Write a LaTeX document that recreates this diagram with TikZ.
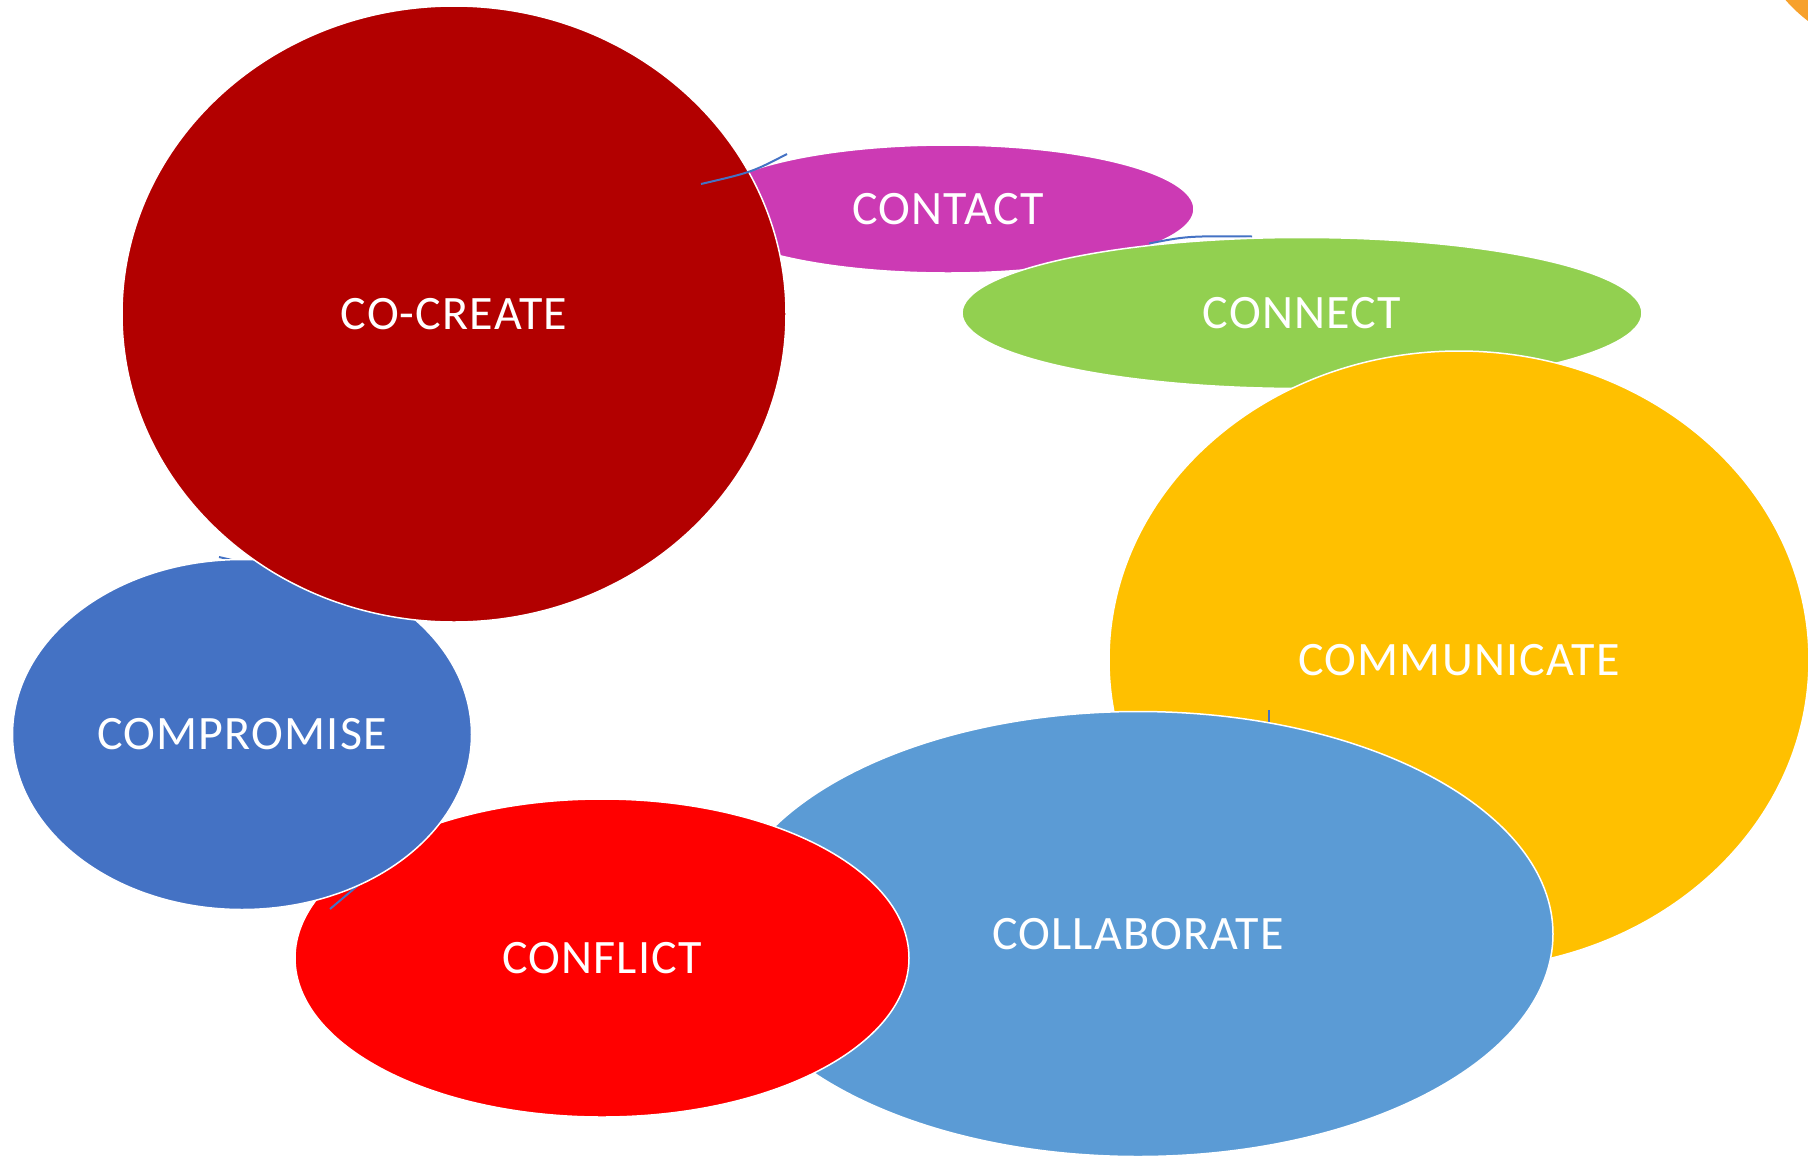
\documentclass[tikz,border=0pt]{standalone}
\usepackage{fontspec}
\setmainfont{Carlito}[LetterSpace=2.5]
\usetikzlibrary{shapes.geometric}

\definecolor{cocreatered}{RGB}{178,0,0}
\definecolor{contactpink}{RGB}{204,58,180}
\definecolor{connectgreen}{RGB}{146,208,80}
\definecolor{communicateyellow}{RGB}{255,192,0}
\definecolor{collaborateblue}{RGB}{91,155,213}
\definecolor{conflictred}{RGB}{255,0,0}
\definecolor{compromiseblue}{RGB}{68,114,196}
\definecolor{cornerorange}{RGB}{247,161,44}

\begin{document}
\begin{tikzpicture}[x=1pt, y=-1pt,
	bubble/.style={ellipse, draw=white, line width=1.5pt, inner sep=0pt, text=white, font=\fontsize{48}{58}\selectfont},
	link/.style={color=compromiseblue, line width=2pt}]
	\useasboundingbox (0,0) rectangle (1808,1157);
	\clip (0,0) rectangle (1808,1157);
	%
	% corner ellipse, mostly off the page
	\fill[cornerorange] (1900,-100) circle (152);
	%
	% Ellipses, lowest first
	\node[bubble, fill=contactpink, minimum width=492, minimum height=128] (contact) at (948,209) {CONTACT};
	\draw[link] (1149,243.5) .. controls (1187.5,236) .. (1252,236.5); % arc contact -> connect
	\node[bubble, fill=connectgreen, minimum width=680, minimum height=151] (connect) at (1302,313) {CONNECT};
	\node[bubble, fill=communicateyellow, minimum width=700, minimum height=618] (communicate) at (1459,660) {COMMUNICATE};
	\draw[link] (1269,710) -- +(0,20); % tick communicate -> collaborate
	\node[bubble, fill=collaborateblue, minimum width=830, minimum height=445] (collaborate) at (1138,934) {COLLABORATE};
	\node[bubble, fill=conflictred, minimum width=614, minimum height=318] (conflict) at (602,958) {CONFLICT};
	\draw[link] (330,909) -- (362,882); % arc conflict -> compromise
	\draw[link] (219,557) -- (232,560); % tick compromise -> co-create
	\node[bubble, fill=compromiseblue, minimum width=459, minimum height=350] (compromise) at (242,734.5) {COMPROMISE};
	\node[bubble, fill=cocreatered, minimum width=664, minimum height=616] (cocreate) at (454,314) {CO-CREATE};
	\draw[link] (701,184) .. controls (751.8,172.2) .. (787,154); % arc co-create -> contact
\end{tikzpicture}
\end{document}
